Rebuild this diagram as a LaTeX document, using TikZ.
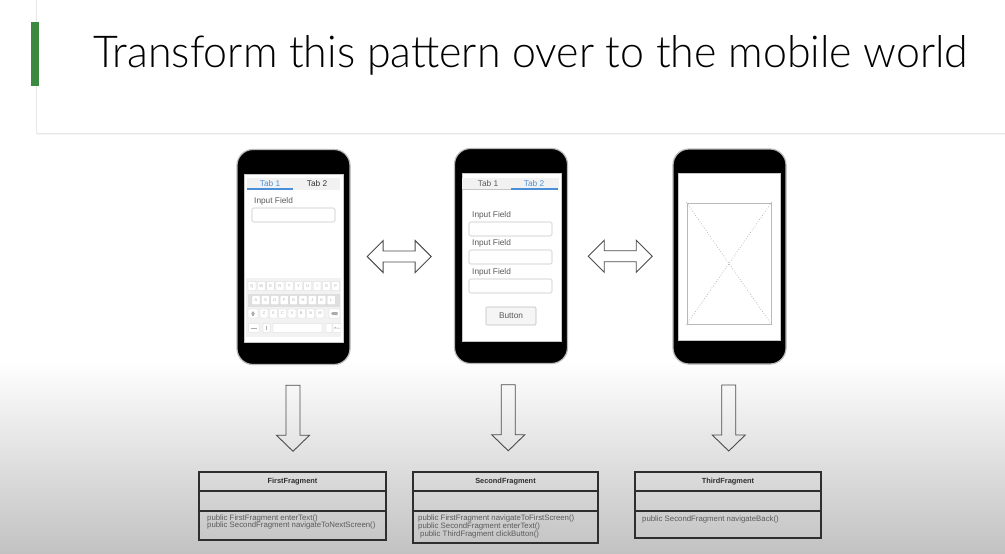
\documentclass[tikz,border=0pt]{standalone}
\usepackage{fontspec}
\setmainfont{Liberation Sans}
\IfFontExistsTF{Lato Light}{\newfontfamily\titlefont{Lato Light}}{\newfontfamily\titlefont{Lato}}
\usetikzlibrary{calc}

\definecolor{accent}{HTML}{3C8A3F}
\definecolor{tabblue}{HTML}{4A8FD8}
\definecolor{uitext}{HTML}{5A5A5A}
\definecolor{bottomgray}{HTML}{C2C2C2}
\definecolor{umlink}{HTML}{2E2E2E}

\tikzset{
  phonebody/.style={fill=black, draw=gray!55, line width=1.2pt, rounded corners=16pt,
    minimum width=113pt, minimum height=215pt, inner sep=0},
  screen/.style={fill=white, draw=gray!45, line width=0.5pt,
    minimum width=99pt, minimum height=168pt, inner sep=0},
  uilabel/.style={inner sep=0, text=uitext, font=\fontsize{8.3}{9}\selectfont},
  field/.style={fill=white, draw=gray!45, line width=0.6pt, rounded corners=1.5pt},
  key/.style={draw=gray!35, fill=white, line width=0.3pt, rounded corners=0.6pt,
    minimum height=9pt, inner sep=0, text=gray!65, font=\fontsize{4}{4}\selectfont},
  blockarrow/.style={draw=gray!60!black, line width=0.9pt, line join=miter},
  dblarrow/.pic={\draw[blockarrow, fill=white] (-32,0) -- (-16,-16) -- (-16,-5.5) -- (16,-5.5)
     -- (16,-16) -- (32,0) -- (16,16) -- (16,5.5) -- (-16,5.5) -- (-16,16) -- cycle;},
  downarrow/.pic={\draw[blockarrow] (-7,-33) -- (7,-33) -- (7,17) -- (16.5,17) -- (0,33)
     -- (-16.5,17) -- (-7,17) -- cycle;},
  umlbox/.style={draw=umlink, line width=1.1pt, inner sep=0},
  umlline/.style={draw=umlink, line width=1.1pt},
  umltitle/.style={inner sep=0, text=umlink, font=\fontsize{7.4}{8}\selectfont\bfseries},
  umlmethod/.style={inner sep=0, anchor=west, text=uitext, font=\fontsize{7.8}{8}\selectfont},
  placeholder diagonal/.style={gray!60, line width=1pt, line cap=round, dash pattern=on 0pt off 2.6pt},
}

\begin{document}
\begin{tikzpicture}[x=1pt,y=-1pt]
\useasboundingbox (0,0) rectangle (1005,554);
\fill[white] (0,0) rectangle (1005,554);
\shade[top color=white, bottom color=bottomgray] (0,360) rectangle (1005,554);

% heading card
\fill[gray!7] (37,-1) rectangle (1006,135);
\fill[white] (36,-1) rectangle (1006,133);
\draw[gray!18, line width=0.6pt] (36,-1) -- (36,133) -- (1006,133);
\fill[accent] (31,22) rectangle (39,86);
\node[anchor=base west, inner sep=0] (title) at (93,67)
  {\resizebox{875pt}{32pt}{\titlefont Transform this pattern over to the mobile world}};

% ---------- phone 1: tabs, one field, keyboard ----------
\node[phonebody] (p1) at (293.5,257) {};
\node[screen] (s1) at (293.5,258) {};
\fill[gray!10] (247,178) rectangle (340,190);
\draw[tabblue, line width=1.4pt] (247,189) -- (293,189);
\node[uilabel, text=tabblue] at (270,184) {Tab 1};
\node[uilabel, text=black!80] at (317,184) {Tab 2};
\node[uilabel, anchor=west] at (254,201) {Input Field};
\draw[field] (252,208) rectangle (335,222);
% keyboard
\fill[gray!10] (246,278) rectangle (341,337);
\fill[gray!25] (248,294) rectangle (340,306.5);
\foreach \k [count=\i from 0] in {Q,W,E,R,T,Y,U,I,O,P}
  \node[key, minimum width=8pt] at (252+\i*9.3,286) {\k};
\foreach \k [count=\i from 0] in {A,S,D,F,G,H,J,K,L}
  \node[key, minimum width=8pt] at (256+\i*9.4,300.2) {\k};
\node[key, minimum width=10pt] (shiftkey) at (253,313.5) {};
\foreach \k [count=\i from 0] in {Z,X,C,V,B,N,M}
  \node[key, minimum width=8pt] at (264+\i*9.33,313.5) {\k};
\node[key, minimum width=11pt] (delkey) at (334.5,313.5) {};
\node[key, minimum width=11pt] (numkey) at (254,328) {};
\node[key, minimum width=7pt] (mickey) at (266.5,328) {};
\node[key, minimum width=49pt] (spacekey) at (297.5,328) {};
\node[key, minimum width=6pt] (dotkey) at (329,328) {};
\node[key, minimum width=8pt] (retkey) at (337,328) {};
\fill[gray!65] (251,314) -- (253,311) -- (255,314) -- cycle;
\fill[gray!65] (252.3,314) rectangle (253.7,316);
\fill[gray!65] (331,313.5) -- (332.5,312) -- (337.5,312) -- (337.5,315) -- (332.5,315) -- cycle;
\draw[gray!65, line width=0.5pt] (251,328) -- (257,328);
\draw[gray!65, line width=0.5pt] (266.5,325.5) -- (266.5,330);
\draw[gray!65, line width=0.5pt] (340,328) -- (334.5,328) -- (335.8,326.8);

% ---------- phone 2: tabs, three fields, button ----------
\node[phonebody] (p2) at (511,256) {};
\node[screen] (s2) at (511.5,257.5) {};
\fill[gray!10] (462,178) rectangle (559,190);
\draw[gray!45, line width=0.8pt] (462,189) -- (511,189);
\draw[tabblue, line width=1.4pt] (511,189) -- (558,189);
\node[uilabel] at (488,184) {Tab 1};
\node[uilabel, text=tabblue] at (534,184) {Tab 2};
\foreach \y in {215,243,272}
  \node[uilabel, anchor=west] at (472,\y) {Input Field};
\foreach \y in {222,250,279}
  \draw[field] (469,\y) rectangle (552,\y+14);
\node[fill=gray!8, draw=gray!50, line width=0.6pt, rounded corners=1pt,
  minimum width=50pt, minimum height=18pt, inner sep=0, text=uitext,
  font=\fontsize{8.3}{9}\selectfont] (btn) at (511,316) {Button};

% ---------- phone 3: image placeholder ----------
\node[phonebody] (p3) at (729.5,256.5) {};
\node[screen, minimum width=102pt, minimum height=167pt] (s3) at (729,256.5) {};
\node[draw=gray!55, line width=0.8pt, minimum width=84pt, minimum height=121pt, inner sep=0]
  (img) at (729,263.5) {};
\draw[placeholder diagonal] (img.north west) -- (img.south east);
\draw[placeholder diagonal] (img.north east) -- (img.south west);

% ---------- UML class boxes ----------
\node[umlbox, minimum width=187pt, minimum height=68pt] (c1) at (292.5,506) {};
\draw[umlline] (199,491) -- (386,491);
\draw[umlline] (199,511) -- (386,511);
\node[umltitle] at (292.5,481.5) {FirstFragment};
\node[umlmethod] at (207,518) {public FirstFragment enterText()};
\node[umlmethod] at (207,525.5) {public SecondFragment navigateToNextScreen()};

\node[umlbox, minimum width=185pt, minimum height=71pt] (c2) at (505.5,507.5) {};
\draw[umlline] (413,491) -- (598,491);
\draw[umlline] (413,511) -- (598,511);
\node[umltitle] at (505.5,481.5) {SecondFragment};
\node[umlmethod] at (418,518) {public FirstFragment navigateToFirstScreen()};
\node[umlmethod] at (418,526) {public SecondFragment enterText()};
\node[umlmethod] at (420,534) {public ThirdFragment clickButton()};

\node[umlbox, minimum width=186pt, minimum height=66pt] (c3) at (728,505) {};
\draw[umlline] (635,491) -- (821,491);
\draw[umlline] (635,511) -- (821,511);
\node[umltitle] at (728,481.5) {ThirdFragment};
\node[umlmethod] at (642,519) {public SecondFragment navigateBack()};

% ---------- block arrows between screens and down to classes ----------
\pic at ($(p1.east)!0.47!(p2.west)$) {dblarrow};
\pic at ($(p2.east)!0.5!(p3.west)$) {dblarrow};
\pic at ($(p1.south)!0.5!(c1.north)$) {downarrow};
\pic at ($(p2.south)!0.5!(c2.north)$) {downarrow};
\pic at ($(p3.south)!0.5!(c3.north)$) {downarrow};
\end{tikzpicture}
\end{document}
